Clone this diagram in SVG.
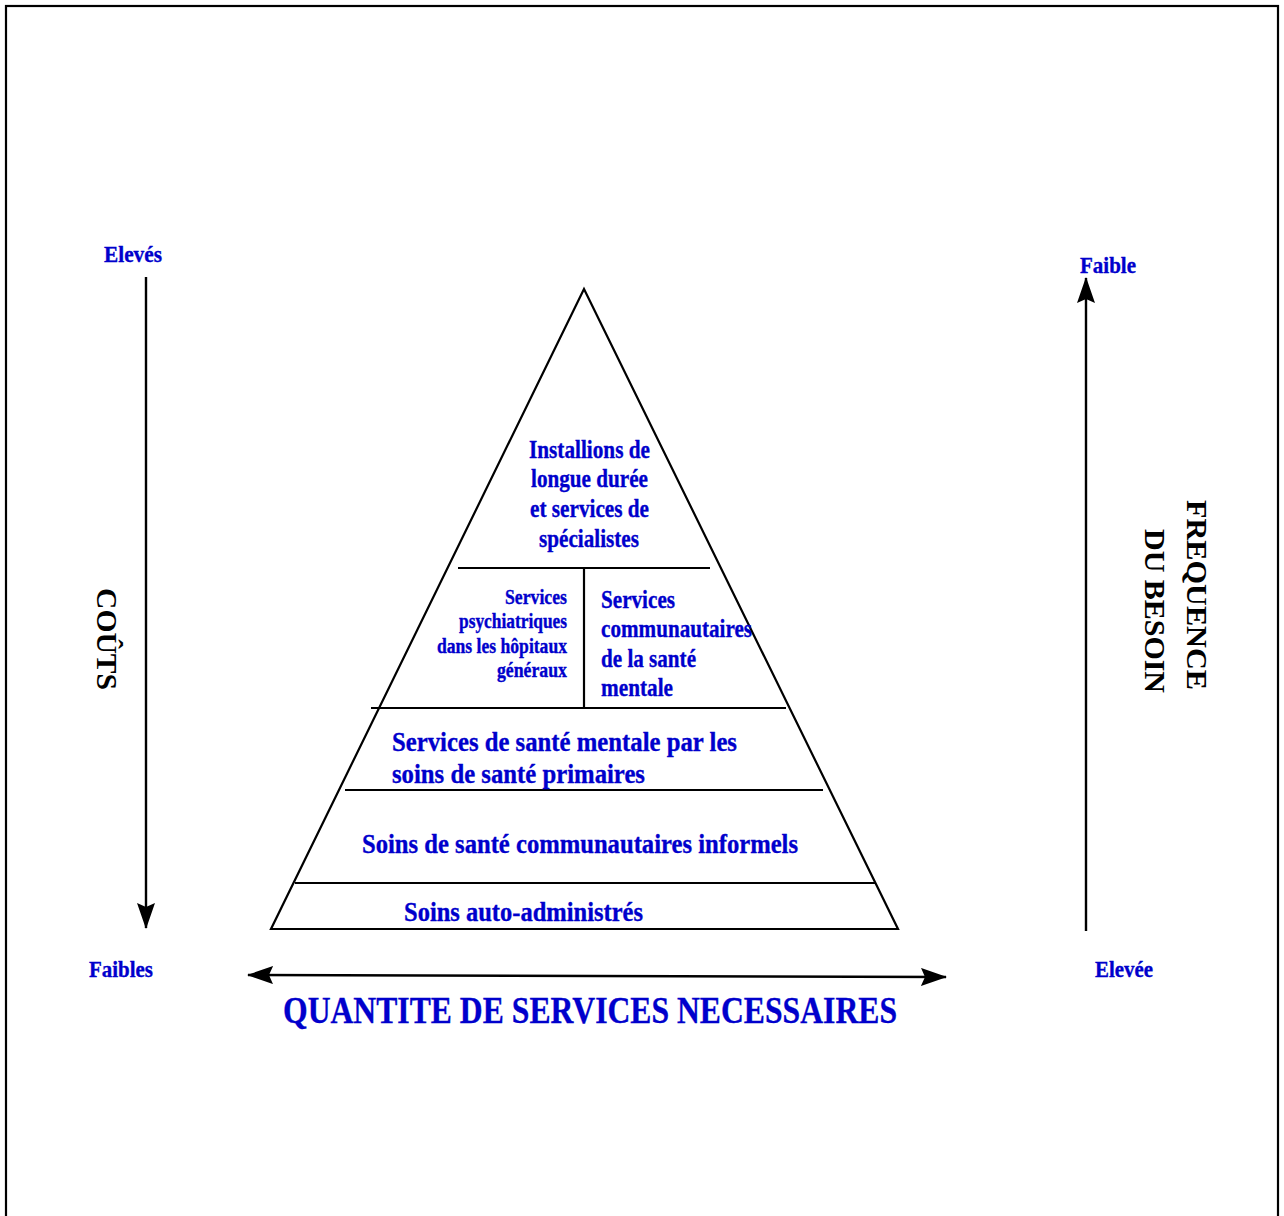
<svg xmlns="http://www.w3.org/2000/svg" width="1284" height="1216" viewBox="0 0 1284 1216">
<style>
  text { font-family: "Liberation Serif", "Times New Roman", serif; font-weight: bold; }
  .b { fill: #0000cc; stroke: #0000cc; stroke-width: 0.35; }
  .k { fill: #000000; }
  .ln { stroke: #000000; stroke-width: 2.2; fill: none; }
  .ax { stroke: #000000; stroke-width: 2.4; fill: none; }
</style>
<defs>
  <marker id="ah" viewBox="0 0 26 18" refX="25" refY="9" markerWidth="26" markerHeight="18" markerUnits="userSpaceOnUse" orient="auto-start-reverse">
    <path d="M0,0 L26,9 L0,18 L4,9 z" fill="#000000"/>
  </marker>
</defs>
<rect x="0" y="0" width="1284" height="1216" fill="#ffffff"/>
<rect x="6" y="6" width="1272" height="1240" fill="none" stroke="#000000" stroke-width="2.2"/>

<g id="pyramid">
  <polygon class="ln" points="584,289 271,929 898,929"/>
  <line class="ln" x1="458" y1="568" x2="710" y2="568"/>
  <line class="ln" x1="584" y1="568" x2="584" y2="708"/>
  <line class="ln" x1="371" y1="708" x2="786" y2="708"/>
  <line class="ln" x1="345" y1="790" x2="823" y2="790"/>
  <line class="ln" x1="295" y1="883" x2="876" y2="883"/>
</g>

<g id="node-specialistes">
  <text class="b" font-size="25" x="529" y="458" textLength="121" lengthAdjust="spacingAndGlyphs">Installions de</text>
  <text class="b" font-size="25" x="531" y="487" textLength="117" lengthAdjust="spacingAndGlyphs">longue durée</text>
  <text class="b" font-size="25" x="530" y="517" textLength="119" lengthAdjust="spacingAndGlyphs">et services de</text>
  <text class="b" font-size="25" x="539" y="547" textLength="100" lengthAdjust="spacingAndGlyphs">spécialistes</text>
</g>

<g id="node-hopitaux">
  <text class="b" font-size="20" x="505" y="604" textLength="62" lengthAdjust="spacingAndGlyphs">Services</text>
  <text class="b" font-size="20" x="459" y="628" textLength="108" lengthAdjust="spacingAndGlyphs">psychiatriques</text>
  <text class="b" font-size="20" x="437" y="653" textLength="130" lengthAdjust="spacingAndGlyphs">dans les hôpitaux</text>
  <text class="b" font-size="20" x="497" y="677" textLength="70" lengthAdjust="spacingAndGlyphs">généraux</text>
</g>

<g id="node-communautaires">
  <text class="b" font-size="25" x="601" y="608" textLength="74" lengthAdjust="spacingAndGlyphs">Services</text>
  <text class="b" font-size="25" x="601" y="637" textLength="151" lengthAdjust="spacingAndGlyphs">communautaires</text>
  <text class="b" font-size="25" x="601" y="667" textLength="95" lengthAdjust="spacingAndGlyphs">de la santé</text>
  <text class="b" font-size="25" x="601" y="696" textLength="72" lengthAdjust="spacingAndGlyphs">mentale</text>
</g>

<g id="node-primaires">
  <text class="b" font-size="28" x="392" y="751" textLength="345" lengthAdjust="spacingAndGlyphs">Services de santé mentale par les</text>
  <text class="b" font-size="28" x="392" y="783" textLength="253" lengthAdjust="spacingAndGlyphs">soins de santé primaires</text>
</g>

<g id="node-informels">
  <text class="b" font-size="28" x="362" y="853" textLength="436" lengthAdjust="spacingAndGlyphs">Soins de santé communautaires informels</text>
</g>

<g id="node-auto">
  <text class="b" font-size="28" x="404" y="921" textLength="239" lengthAdjust="spacingAndGlyphs">Soins auto-administrés</text>
</g>

<g id="connectors">
  <line class="ax" x1="146" y1="277" x2="146" y2="928" marker-end="url(#ah)"/>
  <line class="ax" x1="1086" y1="931" x2="1086" y2="278" marker-end="url(#ah)"/>
  <line class="ax" x1="248" y1="975" x2="946" y2="977" marker-start="url(#ah)" marker-end="url(#ah)"/>
</g>

<g id="label-couts">
  <text class="b" font-size="23" x="104" y="262" textLength="58" lengthAdjust="spacingAndGlyphs">Elevés</text>
  <text class="b" font-size="23" x="89" y="977" textLength="64" lengthAdjust="spacingAndGlyphs">Faibles</text>
  <text class="k" font-size="29" transform="translate(97,588) rotate(90)" x="0" y="0" textLength="102" lengthAdjust="spacingAndGlyphs">COÛTS</text>
</g>

<g id="label-frequence">
  <text class="b" font-size="23" x="1080" y="273" textLength="56" lengthAdjust="spacingAndGlyphs">Faible</text>
  <text class="b" font-size="23" x="1095" y="977" textLength="58" lengthAdjust="spacingAndGlyphs">Elevée</text>
  <text class="k" font-size="30" transform="translate(1187,500) rotate(90)" x="0" y="0" textLength="190" lengthAdjust="spacingAndGlyphs">FREQUENCE</text>
  <text class="k" font-size="30" transform="translate(1145,529) rotate(90)" x="0" y="0" textLength="164" lengthAdjust="spacingAndGlyphs">DU BESOIN</text>
</g>

<g id="label-quantite">
  <text class="b" font-size="38" x="283" y="1023" textLength="614" lengthAdjust="spacingAndGlyphs">QUANTITE DE SERVICES NECESSAIRES</text>
</g>
</svg>
